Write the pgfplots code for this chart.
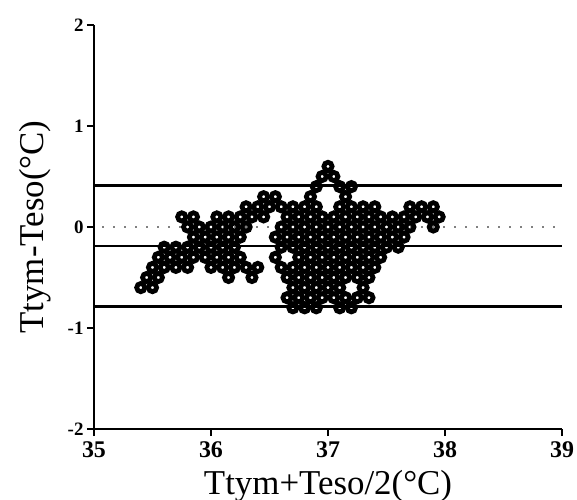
\documentclass[border=0pt]{standalone}
\usepackage{fontspec}
\setmainfont{Liberation Serif}
\usepackage{pgfplots}
\pgfplotsset{compat=1.18}
\usepackage{pgfplotstable}

% differences, Ttym - Teso, against the mean of the two
\pgfplotstableread{
x y
37.0 0.6
36.95 0.5
37.05 0.5
36.9 0.4
37.1 0.4
37.2 0.4
36.45 0.3
36.55 0.3
36.85 0.3
37.15 0.3
36.3 0.2
36.4 0.2
36.5 0.2
36.6 0.2
36.7 0.2
36.8 0.2
36.9 0.2
37.1 0.2
37.2 0.2
37.3 0.2
37.4 0.2
37.7 0.2
37.8 0.2
37.9 0.2
35.75 0.1
35.85 0.1
36.05 0.1
36.15 0.1
36.25 0.1
36.35 0.1
36.45 0.1
36.65 0.1
36.75 0.1
36.85 0.1
36.95 0.1
37.05 0.1
37.15 0.1
37.25 0.1
37.35 0.1
37.45 0.1
37.55 0.1
37.65 0.1
37.75 0.1
37.85 0.1
37.95 0.1
35.8 0
35.9 0
36.0 0
36.1 0
36.2 0
36.3 0
36.6 0
36.7 0
36.8 0
36.9 0
37.0 0
37.1 0
37.2 0
37.3 0
37.4 0
37.5 0
37.6 0
37.7 0
37.9 0
35.85 -0.1
35.95 -0.1
36.05 -0.1
36.15 -0.1
36.25 -0.1
36.55 -0.1
36.65 -0.1
36.75 -0.1
36.85 -0.1
36.95 -0.1
37.05 -0.1
37.15 -0.1
37.25 -0.1
37.35 -0.1
37.45 -0.1
37.55 -0.1
37.65 -0.1
35.6 -0.2
35.7 -0.2
35.8 -0.2
35.9 -0.2
36.0 -0.2
36.1 -0.2
36.2 -0.2
36.6 -0.2
36.7 -0.2
36.8 -0.2
36.9 -0.2
37.0 -0.2
37.1 -0.2
37.2 -0.2
37.3 -0.2
37.4 -0.2
37.5 -0.2
37.6 -0.2
35.55 -0.3
35.65 -0.3
35.75 -0.3
35.85 -0.3
35.95 -0.3
36.05 -0.3
36.15 -0.3
36.25 -0.3
36.55 -0.3
36.75 -0.3
36.85 -0.3
36.95 -0.3
37.05 -0.3
37.15 -0.3
37.25 -0.3
37.35 -0.3
37.45 -0.3
35.5 -0.4
35.6 -0.4
35.7 -0.4
35.8 -0.4
36.0 -0.4
36.1 -0.4
36.2 -0.4
36.3 -0.4
36.4 -0.4
36.6 -0.4
36.7 -0.4
36.8 -0.4
36.9 -0.4
37.0 -0.4
37.1 -0.4
37.2 -0.4
37.3 -0.4
37.4 -0.4
35.45 -0.5
35.55 -0.5
36.15 -0.5
36.35 -0.5
36.65 -0.5
36.75 -0.5
36.85 -0.5
36.95 -0.5
37.05 -0.5
37.15 -0.5
37.25 -0.5
37.35 -0.5
35.4 -0.6
35.5 -0.6
36.7 -0.6
36.8 -0.6
36.9 -0.6
37.0 -0.6
37.1 -0.6
37.3 -0.6
36.65 -0.7
36.75 -0.7
36.85 -0.7
36.95 -0.7
37.05 -0.7
37.15 -0.7
37.25 -0.7
37.35 -0.7
36.7 -0.8
36.8 -0.8
36.9 -0.8
37.1 -0.8
37.2 -0.8
}\diffdata

\begin{document}
\begin{tikzpicture}
\begin{axis}[
  name=ax,
  scale only axis,
  width=468bp, height=404bp,
  xmin=35, xmax=39, ymin=-2, ymax=2,
  axis x line=bottom, axis y line=left,
  axis line style={line width=2.6bp, -},
  xtick={35,36,37,38,39}, xticklabels={35,36,37,38,39},
  ytick={-2,-1,0,1,2}, yticklabels={-2,-1,0,1,2},
  tick align=outside, major tick length=7bp,
  tick style={line width=2.4bp, black},
  xticklabel style={font=\fontsize{24}{24}\selectfont\bfseries, yshift=-2bp},
  yticklabel style={font=\fontsize{19}{19}\selectfont\bfseries},
  xlabel={Ttym+Teso/2(°C)},
  ylabel={Ttym-Teso(°C)},
  label style={font=\fontsize{35}{35}\selectfont},
  xlabel style={at={(axis description cs:0.5,0)}, anchor=base, yshift=-65bp},
  ylabel style={at={(axis description cs:-0.107,0.5)}, anchor=base},
  clip=false,
]
% zero line
\addplot[gray, line width=2bp, dash pattern=on 1.5bp off 9.5bp, forget plot]
  coordinates {(35.07,0) (39,0)};
% points
\addplot[only marks, mark=o, mark size=4.1bp,
  mark options={line width=4.8bp, black}] table[x=x, y=y] {\diffdata};
% mean and limits of agreement
\addplot[black, line width=2.8bp] coordinates {(35,0.41) (39,0.41)};
\addplot[black, line width=2.2bp] coordinates {(35,-0.19) (39,-0.19)};
\addplot[black, line width=2.8bp] coordinates {(35,-0.79) (39,-0.79)};
\end{axis}
\pgfresetboundingbox
\path (ax.south west) ++(-94bp,-71bp) rectangle ++(577bp,500bp);
\end{tikzpicture}
\end{document}
